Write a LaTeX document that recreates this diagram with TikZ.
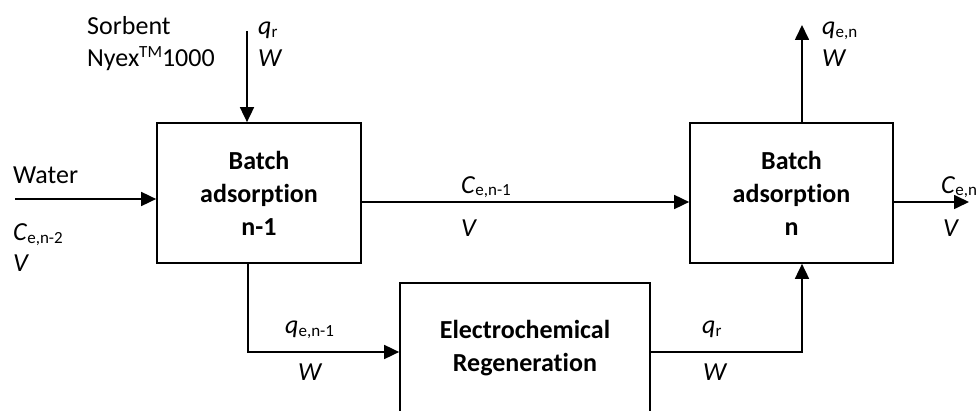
\documentclass[tikz,border=0pt]{standalone}
\usepackage{fontspec}
\setmainfont{Carlito}[Ligatures=NoCommon]
\usetikzlibrary{arrows.meta}
\newcommand\lsub[1]{\raisebox{-2.5pt}{\fontsize{17}{17}\selectfont\upshape #1}}
\newcommand\lsup[1]{\raisebox{9pt}{\fontsize{17}{17}\selectfont #1}}
\newcommand\bigf{\fontsize{26}{33}\selectfont}
\tikzset{
 box/.style={draw, line width=1.7pt, inner sep=0pt, align=center, font=\bigf\bfseries},
 arr/.style={line width=1.7pt, -{Triangle[length=15pt,width=14pt]}},
 lbl/.style={anchor=base west, inner sep=0pt, font=\bigf},
}
\begin{document}
\begin{tikzpicture}[x=1pt,y=-1pt]
\useasboundingbox (0,0) rectangle (978,411);
\clip (0,0) rectangle (978,411);
% boxes
\node[box, minimum width=204pt, minimum height=140pt] (b1) at (259,193) {Batch\\adsorption\\n-1};
\node[box, minimum width=203pt, minimum height=140pt] (b2) at (791.5,193) {Batch\\adsorption\\n};
\node[box, minimum width=250pt, minimum height=130pt] (b3) at (525,348) {Electrochemical\\Regeneration};
% coordinates
\coordinate (win) at (15,199);
\coordinate (mid) at (0,202);
\coordinate (tin) at (247,31);
\coordinate (tout) at (802,25);
\coordinate (oout) at (969,202);
\coordinate (d1) at (248,352);
\coordinate (d2) at (802,352);
% connectors
\draw[arr] (win) -- (win -| b1.west);
\draw[arr] (b1.east |- mid) -- (b2.west |- mid);
\draw[arr] (tin) -- (tin |- b1.north);
\draw[arr] (tout |- b2.north) -- (tout);
\draw[arr] (b2.east |- oout) -- (oout);
\draw[arr] (d1 |- b1.south) -- (d1) -- (d1 -| b3.west);
\draw[arr] (d2 -| b3.east) -- (d2) -- (d2 |- b2.south);
% labels
\node[lbl] (ls1) at (87,35) {Sorbent};
\node[lbl] (ls2) at (87,67) {Nyex\lsup{TM}1000};
\node[lbl] (lq1) at (258,35) {\textit{q}\lsub{r}};
\node[lbl] (lw1) at (258,67) {\textit{W}};
\node[lbl] (lq2) at (822,35) {\textit{q}\lsub{e,n}};
\node[lbl] (lw2) at (822,67) {\textit{W}};
\node[lbl] (lwa) at (13,184) {Water};
\node[lbl] (lc0) at (13,241) {\textit{C}\lsub{e,n-2}};
\node[lbl] (lv0) at (13,272) {\textit{V}};
\node[lbl] (lc1) at (461,193.5) {\textit{C}\lsub{e,n-1}};
\node[lbl] (lv1) at (461,236.5) {\textit{V}};
\node[lbl] (lc2) at (941,193.5) {\textit{C}\lsub{e,n}};
\node[lbl] (lv2) at (943,236.5) {\textit{V}};
\node[lbl] (lq3) at (285,334) {\textit{q}\lsub{e,n-1}};
\node[lbl] (lw3) at (298,380.5) {\textit{W}};
\node[lbl] (lq4) at (702,334) {\textit{q}\lsub{r}};
\node[lbl] (lw4) at (703,380.5) {\textit{W}};
\end{tikzpicture}
\end{document}
